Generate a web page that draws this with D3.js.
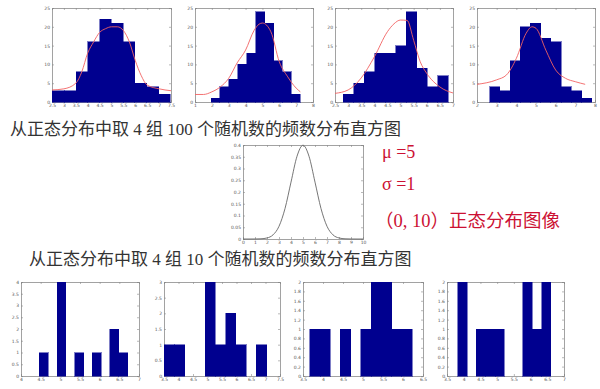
<!DOCTYPE html>
<html>
<head>
<meta charset="utf-8">
<script src="https://cdn.jsdelivr.net/npm/d3@7"></script>
<style>
  body { margin: 0; background: #fff; }
  svg { display: block; }
  .tick-label { font-family: "DejaVu Sans", sans-serif; font-size: 4.5px; fill: #555; }
</style>
</head>
<body>
<div id="chart"></div>
<script>
// ---- data ----
// top row: 4 histograms of 100 random numbers (10 bins each)
var top1Counts = [3, 3, 8, 16, 22, 21, 16, 5, 4, 2];
var top1BinStart = 2.52, top1BinWidth = 0.495;
var top1CurveX = [2.5, 3, 3.5, 3.75, 4, 4.25, 4.5, 4.75, 5, 5.25, 5.5, 5.75, 6, 6.25, 6.5, 7, 7.5];
var top1CurveY = [3.2, 3.5, 5, 8, 13, 16, 18.5, 19.5, 20, 20, 19, 16, 11, 7, 4.5, 3.5, 3];
var top1XTicks = [2.5, 3, 3.5, 4, 4.5, 5, 5.5, 6, 6.5, 7, 7.5];

var top2Counts = [1, 4, 6, 10, 13, 24, 21, 11, 8, 2];
var top2BinStart = 1.95, top2BinWidth = 0.53;
var top2CurveX = [1, 1.5, 2, 2.5, 3, 3.5, 4, 4.5, 4.8, 5, 5.5, 6, 6.5, 7, 7.25];
var top2CurveY = [2, 2, 2.7, 4, 6.3, 10.4, 13.8, 19, 20.7, 21, 18.7, 10.7, 6.7, 3.7, 2.7];
var top2XTicks = [1, 2, 3, 4, 5, 6, 7, 8];

var top3Counts = [2, 5, 8, 13, 13, 15, 24, 9, 4, 7];
var top3BinStart = 2.81, top3BinWidth = 0.40;
var top3CurveX = [2.5, 3, 3.5, 4, 4.5, 4.75, 5, 5.25, 5.5, 5.75, 6, 6.5, 7];
var top3CurveY = [2.3, 3.2, 6.4, 12, 18.7, 20.8, 21.8, 21.7, 16.4, 10.7, 7.6, 4, 2.4];
var top3XTicks = [2.5, 3, 3.5, 4, 4.5, 5, 5.5, 6, 6.5, 7];

var top4Counts = [4, 3, 11, 20, 21, 17, 16, 4, 3, 1];
var top4BinStart = 2.64, top4BinWidth = 0.52;
var top4CurveX = [2, 3, 3.5, 4, 4.5, 4.8, 5, 5.5, 6, 6.5, 7, 7.5];
var top4CurveY = [4.7, 5.9, 7.2, 11.6, 18.3, 20, 19.6, 13.8, 8.5, 6.3, 5.4, 4.7];
var top4XTicks = [2, 3, 4, 5, 6, 7, 8];

var topYTicks = [0, 5, 10, 15, 20, 25];

// middle: N(5,1) density
var normX = [0, 0.5, 1, 1.5, 2, 2.5, 3, 3.5, 4, 4.5, 5, 5.5, 6, 6.5, 7, 7.5, 8, 8.5, 9, 9.5, 10];
var normY = [0, 0, 0.0001, 0.0009, 0.0044, 0.0175, 0.054, 0.1295, 0.242, 0.352, 0.399,
             0.352, 0.242, 0.1295, 0.054, 0.0175, 0.0044, 0.0009, 0.0001, 0, 0];
var normXTicks = [0, 1, 2, 3, 4, 5, 6, 7, 8, 9, 10];
var normYTicks = [0, 0.05, 0.1, 0.15, 0.2, 0.25, 0.3, 0.35, 0.4];

// bottom row: 4 histograms of 10 random numbers
var bot1Counts = [1, 0, 4, 0, 1, 0, 1, 0, 2, 1];
var bot1BinStart = 4.47, bot1BinWidth = 0.224;
var bot1XTicks = [4, 4.5, 5, 5.5, 6, 6.5, 7];
var bot1YTicks = [0, 0.5, 1, 1.5, 2, 2.5, 3, 3.5, 4];

var bot2Counts = [1, 1, 0, 0, 3, 1, 2, 1, 0, 1];
var bot2BinStart = 3.5, bot2BinWidth = 0.354;
var bot2XTicks = [3.5, 4, 4.5, 5, 5.5, 6, 6.5, 7, 7.5];
var bot2YTicks = [0, 0.5, 1, 1.5, 2, 2.5, 3];

var bot3Counts = [1, 1, 0, 1, 0, 1, 2, 2, 1, 1];
var bot3BinStart = 3.67, bot3BinWidth = 0.2555;
var bot3XTicks = [3.5, 4, 4.5, 5, 5.5, 6, 6.5];
var bot3YTicks = [0, 0.2, 0.4, 0.6, 0.8, 1, 1.2, 1.4, 1.6, 1.8, 2];

var bot4Counts = [2, 0, 1, 1, 1, 0, 0, 2, 1, 2];
var bot4BinStart = 3.82, bot4BinWidth = 0.279;
var bot4XTicks = [3.5, 4, 4.5, 5, 5.5, 6, 6.5, 7];
var bot4YTicks = [0, 0.2, 0.4, 0.6, 0.8, 1, 1.2, 1.4, 1.6, 1.8, 2];

var caption1 = "从正态分布中取 4 组 100 个随机数的频数分布直方图";
var caption2 = "从正态分布中取 4 组 10 个随机数的频数分布直方图";
var noteLines = ["μ =5", "σ =1", "（0, 10）正态分布图像"];

// ---- drawing ----
var svg = d3.select("#chart").append("svg")
  .attr("width", 600)
  .attr("height", 389);

var barColor = "#00008f";
var boxColor = "#8a8a8a";

// builds a MATLAB style box with inward ticks on all sides, returns scales
function makeAxes(box, xTicks, yTicks) {
  var x = d3.scaleLinear().domain(d3.extent(xTicks)).range([box.x0, box.x1]);
  var y = d3.scaleLinear().domain(d3.extent(yTicks)).range([box.y1, box.y0]);
  var g = svg.append("g");

  g.append("rect")
    .attr("x", box.x0).attr("y", box.y0)
    .attr("width", box.x1 - box.x0).attr("height", box.y1 - box.y0)
    .attr("fill", "#fff");

  var fmt = function(d) { return d3.format("~g")(d); };
  g.append("g").attr("transform", "translate(0," + box.y1 + ")")
    .call(d3.axisBottom(x).tickValues(xTicks).tickSize(-2).tickPadding(2).tickFormat(fmt));
  g.append("g").attr("transform", "translate(0," + box.y0 + ")")
    .call(d3.axisTop(x).tickValues(xTicks).tickSize(-2).tickFormat(""));
  g.append("g").attr("transform", "translate(" + box.x0 + ",0)")
    .call(d3.axisLeft(y).tickValues(yTicks).tickSize(-2).tickPadding(2).tickFormat(fmt));
  g.append("g").attr("transform", "translate(" + box.x1 + ",0)")
    .call(d3.axisRight(y).tickValues(yTicks).tickSize(-2).tickFormat(""));

  g.selectAll(".domain").attr("stroke", boxColor).attr("stroke-width", 0.8);
  g.selectAll(".tick line").attr("stroke", boxColor).attr("stroke-width", 0.6);
  g.selectAll(".tick text").attr("class", "tick-label").attr("font-size", null).attr("font-family", null);
  return { x: x, y: y, g: g };
}

function drawHist(box, counts, start, width, xTicks, yTicks, curveX, curveY) {
  var ax = makeAxes(box, xTicks, yTicks);
  var bins = counts.map(function(c, i) { return { x0: start + i * width, x1: start + (i + 1) * width, n: c }; });
  var barsG = svg.append("g").attr("shape-rendering", "crispEdges");
  barsG.selectAll("rect")
    .data(bins.filter(function(d) { return d.n > 0; }))
    .enter().append("rect")
    .attr("x", function(d) { return ax.x(d.x0); })
    .attr("width", function(d) { return ax.x(d.x1) - ax.x(d.x0); })
    .attr("y", function(d) { return ax.y(d.n); })
    .attr("height", function(d) { return ax.y(0) - ax.y(d.n); })
    .attr("fill", barColor)
    .attr("stroke", barColor)
    .attr("stroke-width", 0.5);

  if (curveX) {
    var pts = curveX.map(function(v, i) { return [v, curveY[i]]; });
    svg.append("path")
      .datum(pts)
      .attr("fill", "none")
      .attr("stroke", "#f26262")
      .attr("stroke-width", 0.9)
      .attr("d", d3.line()
        .x(function(d) { return ax.x(d[0]); })
        .y(function(d) { return ax.y(d[1]); })
        .curve(d3.curveMonotoneX));
  }
}

// top row
var topY0 = 8, topY1 = 102;
drawHist({x0: 52, x1: 171, y0: topY0, y1: topY1}, top1Counts, top1BinStart, top1BinWidth, top1XTicks, topYTicks, top1CurveX, top1CurveY);
drawHist({x0: 195, x1: 313, y0: topY0, y1: topY1}, top2Counts, top2BinStart, top2BinWidth, top2XTicks, topYTicks, top2CurveX, top2CurveY);
drawHist({x0: 335, x1: 453, y0: topY0, y1: topY1}, top3Counts, top3BinStart, top3BinWidth, top3XTicks, topYTicks, top3CurveX, top3CurveY);
drawHist({x0: 477, x1: 595, y0: topY0, y1: topY1}, top4Counts, top4BinStart, top4BinWidth, top4XTicks, topYTicks, top4CurveX, top4CurveY);

// bottom row
var botY0 = 282, botY1 = 376;
drawHist({x0: 21, x1: 139, y0: botY0, y1: botY1}, bot1Counts, bot1BinStart, bot1BinWidth, bot1XTicks, bot1YTicks);
drawHist({x0: 164, x1: 280, y0: botY0, y1: botY1}, bot2Counts, bot2BinStart, bot2BinWidth, bot2XTicks, bot2YTicks);
drawHist({x0: 303, x1: 423, y0: botY0, y1: botY1}, bot3Counts, bot3BinStart, bot3BinWidth, bot3XTicks, bot3YTicks);
drawHist({x0: 447, x1: 564, y0: botY0, y1: botY1}, bot4Counts, bot4BinStart, bot4BinWidth, bot4XTicks, bot4YTicks);

// middle normal density
var mid = makeAxes({x0: 243, x1: 363, y0: 145, y1: 239}, normXTicks, normYTicks);
svg.append("path")
  .datum(normX.map(function(v, i) { return [v, normY[i]]; }))
  .attr("fill", "none")
  .attr("stroke", "#666")
  .attr("stroke-width", 0.9)
  .attr("d", d3.line()
    .x(function(d) { return mid.x(d[0]); })
    .y(function(d) { return mid.y(d[1]); })
    .curve(d3.curveMonotoneX));

// captions
var capFont = "'Liberation Serif', 'Noto Sans CJK SC', serif";
svg.append("text")
  .attr("x", 10).attr("y", 135)
  .attr("font-family", capFont).attr("font-size", 17)
  .attr("fill", "#333")
  .text(caption1);
svg.append("text")
  .attr("x", 29).attr("y", 265)
  .attr("font-family", capFont).attr("font-size", 17)
  .attr("fill", "#333")
  .text(caption2);

// red notes next to the density plot
var noteX = [382, 382, 375], noteYs = [158, 190, 227], noteSizes = [18, 18, 18.5];
svg.selectAll(".note")
  .data(noteLines)
  .enter().append("text")
  .attr("class", "note")
  .attr("x", function(d, i) { return noteX[i]; })
  .attr("y", function(d, i) { return noteYs[i]; })
  .attr("font-family", capFont)
  .attr("font-size", function(d, i) { return noteSizes[i]; })
  .attr("fill", "#cc1133")
  .text(function(d) { return d; });
</script>
</body>
</html>
